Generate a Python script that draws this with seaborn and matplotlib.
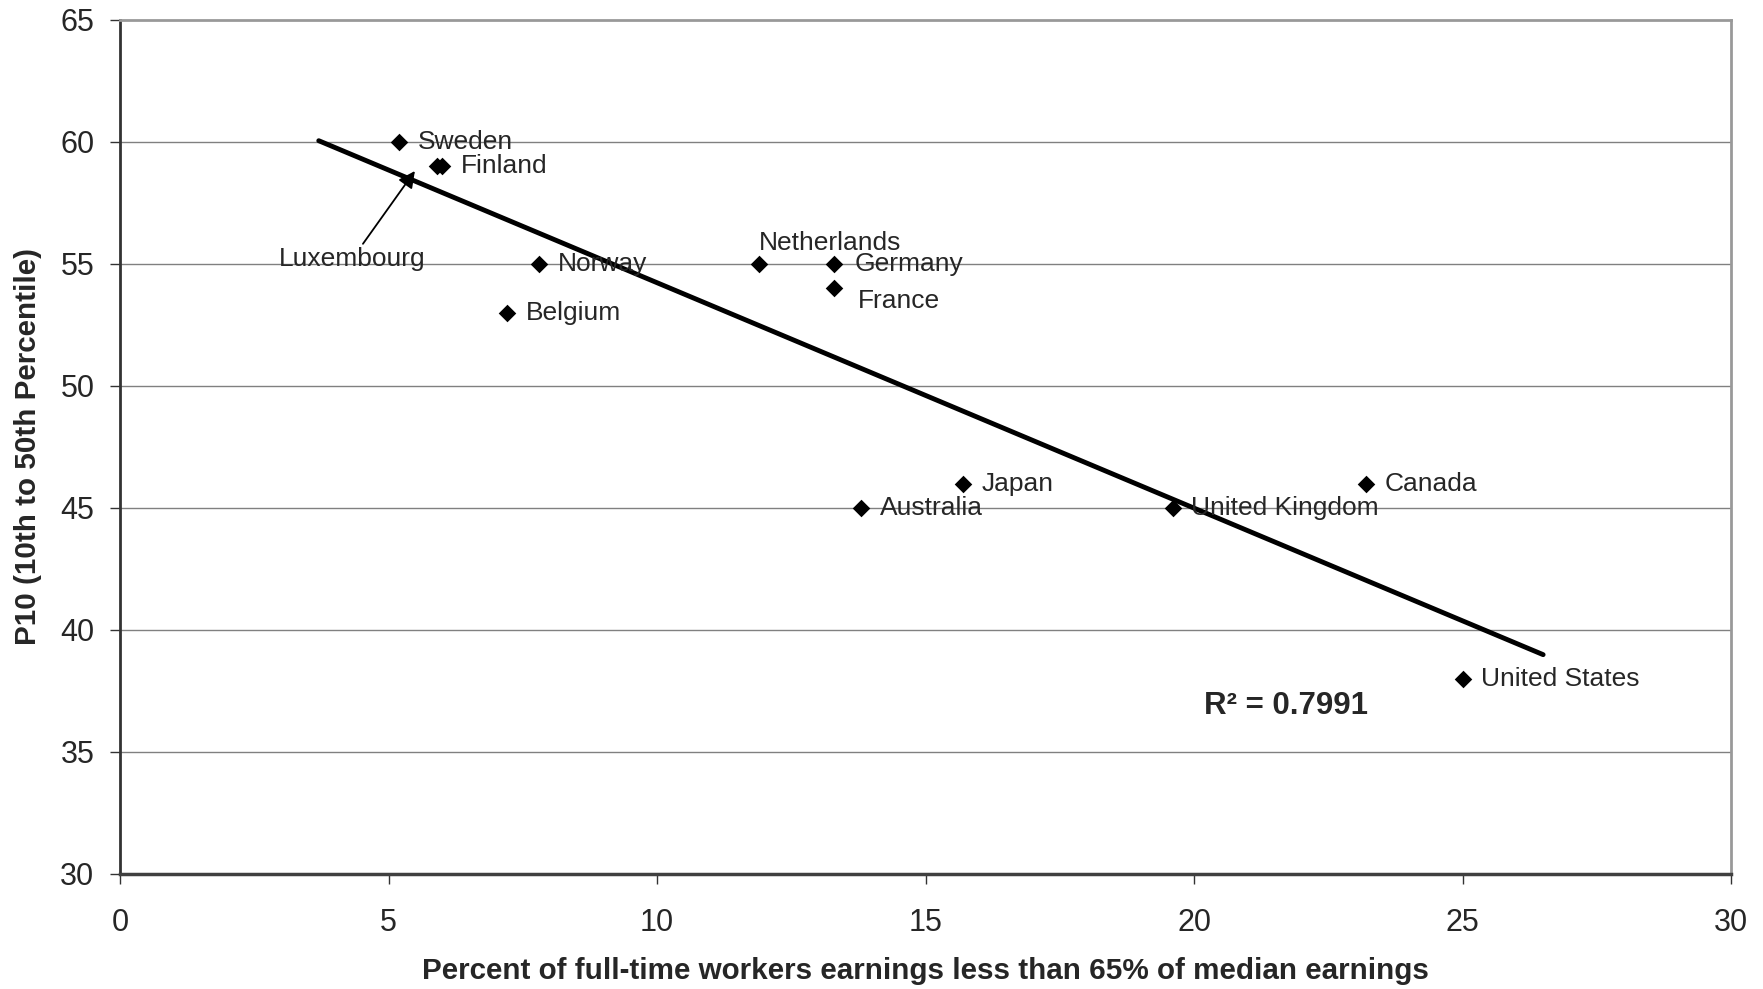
import numpy as np
import pandas as pd
import seaborn as sns
import matplotlib.pyplot as plt

# Data
countries = ['Sweden', 'Finland', 'Luxembourg', 'Norway', 'Belgium', 'Netherlands',
             'Germany', 'France', 'Japan', 'Australia', 'United Kingdom', 'Canada',
             'United States']
low_pay_pct = [5.2, 6.0, 5.9, 7.8, 7.2, 11.9, 13.3, 13.3, 15.7, 13.8, 19.6, 23.2, 25.0]
p10_p50 = [60, 59, 59, 55, 53, 55, 55, 54, 46, 45, 45, 46, 38]
r_squared = 0.7991
trend_x = [3.7, 26.5]

df = pd.DataFrame({'country': countries, 'x': low_pay_pct, 'y': p10_p50})

# Linear trendline (least squares), extended like the Excel forecast
slope, intercept = np.polyfit(df['x'], df['y'], 1)
trend = pd.DataFrame({'x': trend_x})
trend['y'] = intercept + slope * trend['x']

sns.set_style('ticks')
plt.rcParams['font.family'] = ['Liberation Sans', 'DejaVu Sans']

fig = plt.figure(figsize=(17.63, 9.89), dpi=100)
ax = fig.add_axes([0.0681, 0.1163, 0.9138, 0.8635])

# horizontal gridlines
for yv in range(35, 65, 5):
    ax.axhline(yv, color='#808080', lw=1, zorder=0)

sns.lineplot(data=trend, x='x', y='y', color='black', lw=3.5, ax=ax, zorder=2)
sns.scatterplot(data=df, x='x', y='y', marker='D', s=80, color='black',
                edgecolor='black', linewidth=0, ax=ax, zorder=3)

# label offsets in points (dx, dy)
offsets = {'Netherlands': (0, 15), 'France': (17, -9), 'Germany': (15, 0)}
for _, row in df.iterrows():
    if row['country'] == 'Luxembourg':
        continue
    dx, dy = offsets.get(row['country'], (13.5, 0))
    ax.annotate(row['country'], (row['x'], row['y']), xytext=(dx, dy),
                textcoords='offset points', ha='left', va='center',
                fontsize=19, zorder=4)

ax.annotate('Luxembourg', xy=(5.49, 58.81), xytext=(4.32, 55.2),
            ha='center', va='center', fontsize=19,
            arrowprops=dict(arrowstyle='-|>', color='black', lw=1.3,
                            mutation_scale=25, shrinkA=0, shrinkB=0))

ax.text(20.19, 36.9, f'R² = {r_squared:.4f}', fontsize=22.5, fontweight='bold',
        ha='left', va='center')

ax.set_xlim(0, 30)
ax.set_ylim(30, 65)
ax.set_xticks(range(0, 31, 5))
ax.set_yticks(range(30, 66, 5))
ax.tick_params(axis='both', labelsize=22, length=7.5, width=1, color='#333333',
               direction='out')
ax.tick_params(axis='x', pad=17)
ax.tick_params(axis='y', pad=11)

ax.set_xlabel('Percent of full-time workers earnings less than 65% of median earnings',
              fontsize=21.3, fontweight='bold')
ax.set_ylabel('P10 (10th to 50th Percentile)', fontsize=21.3, fontweight='bold')
ax.xaxis.set_label_coords(0.5, -0.1136)
ax.xaxis.label.set_verticalalignment('center')
ax.yaxis.set_label_coords(-0.0571, 0.5)
ax.yaxis.label.set_verticalalignment('center')

ax.spines['left'].set_color('#333333')
ax.spines['left'].set_linewidth(2)
ax.spines['bottom'].set_color('#404040')
ax.spines['bottom'].set_linewidth(2.5)
for side in ['top', 'right']:
    ax.spines[side].set_visible(True)
    ax.spines[side].set_color('#999999')
    ax.spines[side].set_linewidth(2)

fig.savefig('out.png', dpi=100)
